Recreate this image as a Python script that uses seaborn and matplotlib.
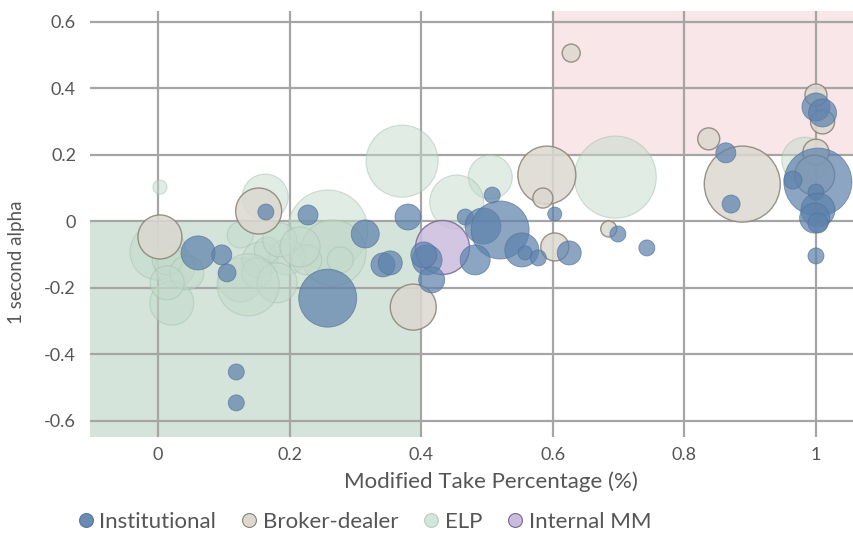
import matplotlib
matplotlib.use("Agg")
import matplotlib.pyplot as plt
from matplotlib.patches import Rectangle
from matplotlib.lines import Line2D
import seaborn as sns
import pandas as pd

# ---------------- data ----------------
inst_x = [0.119, 0.119, 0.061, 0.097, 0.105, 0.164, 0.228, 0.315, 0.258, 0.342,
          0.353, 0.380, 0.409, 0.404, 0.416, 0.467, 0.508, 0.494, 0.520, 0.482,
          0.553, 0.558, 0.578, 0.603, 0.625, 0.699, 0.743, 0.863, 0.871, 1.000,
          1.010, 1.003, 0.965, 1.000, 1.003, 0.998, 1.003, 1.000]
inst_y = [-0.454, -0.547, -0.096, -0.102, -0.156, 0.027, 0.018, -0.039, -0.232, -0.132,
          -0.126, 0.012, -0.117, -0.102, -0.177, 0.012, 0.078, -0.015, -0.027, -0.117,
          -0.087, -0.096, -0.111, 0.021, -0.096, -0.039, -0.081, 0.205, 0.051, 0.343,
          0.325, 0.117, 0.123, 0.087, 0.033, 0.009, -0.006, -0.105]
inst_vol = [64, 64, 289, 100, 81, 64, 100, 196, 841, 144,
            144, 169, 225, 169, 169, 64, 64, 324, 841, 225,
            289, 49, 64, 49, 144, 64, 64, 100, 81, 196,
            196, 1156, 81, 64, 289, 225, 100, 64]

bd_x = [0.003, 0.153, 0.388, 0.591, 0.585, 0.603, 0.685, 0.628, 0.837, 0.888,
        1.000, 1.010, 1.000, 0.998]
bd_y = [-0.048, 0.030, -0.259, 0.138, 0.069, -0.078, -0.024, 0.505, 0.247, 0.111,
        0.379, 0.298, 0.207, 0.138]
bd_vol = [484, 529, 529, 841, 100, 196, 64, 81, 121, 1444,
          121, 144, 169, 400]

elp_x = [0.003, 0.000, 0.026, 0.021, 0.014, 0.044, 0.014, 0.163, 0.258, 0.266,
         0.125, 0.155, 0.196, 0.125, 0.166, 0.226, 0.277, 0.185, 0.216, 0.150,
         0.181, 0.137, 0.371, 0.505, 0.454, 0.695, 0.983]
elp_y = [0.102, -0.093, -0.138, -0.247, -0.117, -0.156, -0.186, 0.072, -0.027, -0.096,
         -0.177, -0.117, -0.108, -0.042, -0.087, -0.117, -0.117, -0.057, -0.078, -0.156,
         -0.186, -0.192, 0.180, 0.132, 0.057, 0.132, 0.183]
elp_vol = [49, 784, 400, 484, 225, 289, 289, 529, 1600, 1089,
           484, 324, 324, 169, 169, 225, 169, 289, 400, 225,
           400, 961, 1296, 484, 729, 1681, 529]

mm_x = [0.432]
mm_y = [-0.078]
mm_vol = [729]

categories = ["Institutional", "Broker-dealer", "ELP", "Internal MM"]
x_ticks = [0, 0.2, 0.4, 0.6, 0.8, 1]
x_labels = ["0", "0.2", "0.4", "0.6", "0.8", "1"]
y_ticks = [-0.6, -0.4, -0.2, 0, 0.2, 0.4, 0.6]
y_labels = ["-0.6", "-0.4", "-0.2", "0", "0.2", "0.4", "0.6"]

# ---------------- styling ----------------
sns.set_theme(style="white")
plt.rcParams["font.family"] = ["Lato", "DejaVu Sans"]
TXT = "#555555"

styles = {
    "Institutional": dict(face="#5e82ac", edge="#50729a", alpha=0.72, lw=0.6),
    "Broker-dealer": dict(face="#dcd8d0", edge="#8a8275", alpha=0.85, lw=1.0),
    "ELP": dict(face="#c3dacb", edge="#a3bfac", alpha=0.5, lw=0.8),
    "Internal MM": dict(face="#cbbcdf", edge="#76688f", alpha=0.85, lw=1.0),
}

frames = {
    "ELP": pd.DataFrame({"x": elp_x, "y": elp_y, "vol": elp_vol}),
    "Broker-dealer": pd.DataFrame({"x": bd_x, "y": bd_y, "vol": bd_vol}),
    "Internal MM": pd.DataFrame({"x": mm_x, "y": mm_y, "vol": mm_vol}),
    "Institutional": pd.DataFrame({"x": inst_x, "y": inst_y, "vol": inst_vol}),
}

fig = plt.figure(figsize=(8.54, 5.36), dpi=100)
W, H = 854, 536
ax = fig.add_axes([90 / W, 1 - 437 / H, (854 - 90) / W, (437 - 11) / H])

XMIN, XMAX = -0.1033, 1.0578
YMIN, YMAX = -0.6496, 0.6316
ax.set_xlim(XMIN, XMAX)
ax.set_ylim(YMIN, YMAX)

# shaded regions
ax.add_patch(Rectangle((XMIN, YMIN), 0.4 - XMIN, 0 - YMIN,
                       facecolor="#d5e4da", edgecolor="none", zorder=0.1))
ax.add_patch(Rectangle((0.6, 0.2), XMAX - 0.6, YMAX - 0.2,
                       facecolor="#f8e6e8", edgecolor="none", zorder=0.1))

# bubbles (area proportional to value)
VMAX = 2000
SMAX = 2.0736 * VMAX
for cat, df in frames.items():
    st = styles[cat]
    sns.scatterplot(data=df, x="x", y="y", size="vol", sizes=(0, SMAX),
                    size_norm=(0, VMAX), color=st["face"], edgecolor=st["edge"],
                    linewidth=st["lw"], alpha=st["alpha"], legend=False,
                    ax=ax, zorder=2)

ax.set_xticks(x_ticks)
ax.set_xticklabels(x_labels)
ax.set_yticks(y_ticks)
ax.set_yticklabels(y_labels)
ax.grid(True, color="#a5a5a5", linewidth=1.6)
ax.set_axisbelow(True)
for s in ax.spines.values():
    s.set_visible(False)
ax.tick_params(axis="both", length=0, labelsize=13, colors=TXT)
ax.tick_params(axis="x", pad=7)
ax.tick_params(axis="y", pad=10)

ax.set_xlabel("Modified Take Percentage (%)", fontsize=16, color=TXT)
ax.set_ylabel("1 second alpha", fontsize=13.5, color=TXT)
ax.xaxis.set_label_coords(0.525, -0.080)
ax.yaxis.set_label_coords(-0.085, 0.41)

handles = []
for cat in categories:
    st = styles[cat]
    handles.append(Line2D([], [], marker="o", linestyle="", markersize=10,
                          markerfacecolor=st["face"], markeredgecolor=st["edge"],
                          markeredgewidth=0.8, alpha=min(1, st["alpha"] + 0.2)))
fig.legend(handles, categories, loc="center", bbox_to_anchor=(0.425, 0.026),
           ncol=4, frameon=False, fontsize=16, handletextpad=0.1,
           handlelength=1.0, columnspacing=1.0, labelcolor=TXT)

fig.savefig("out.png", dpi=100)
